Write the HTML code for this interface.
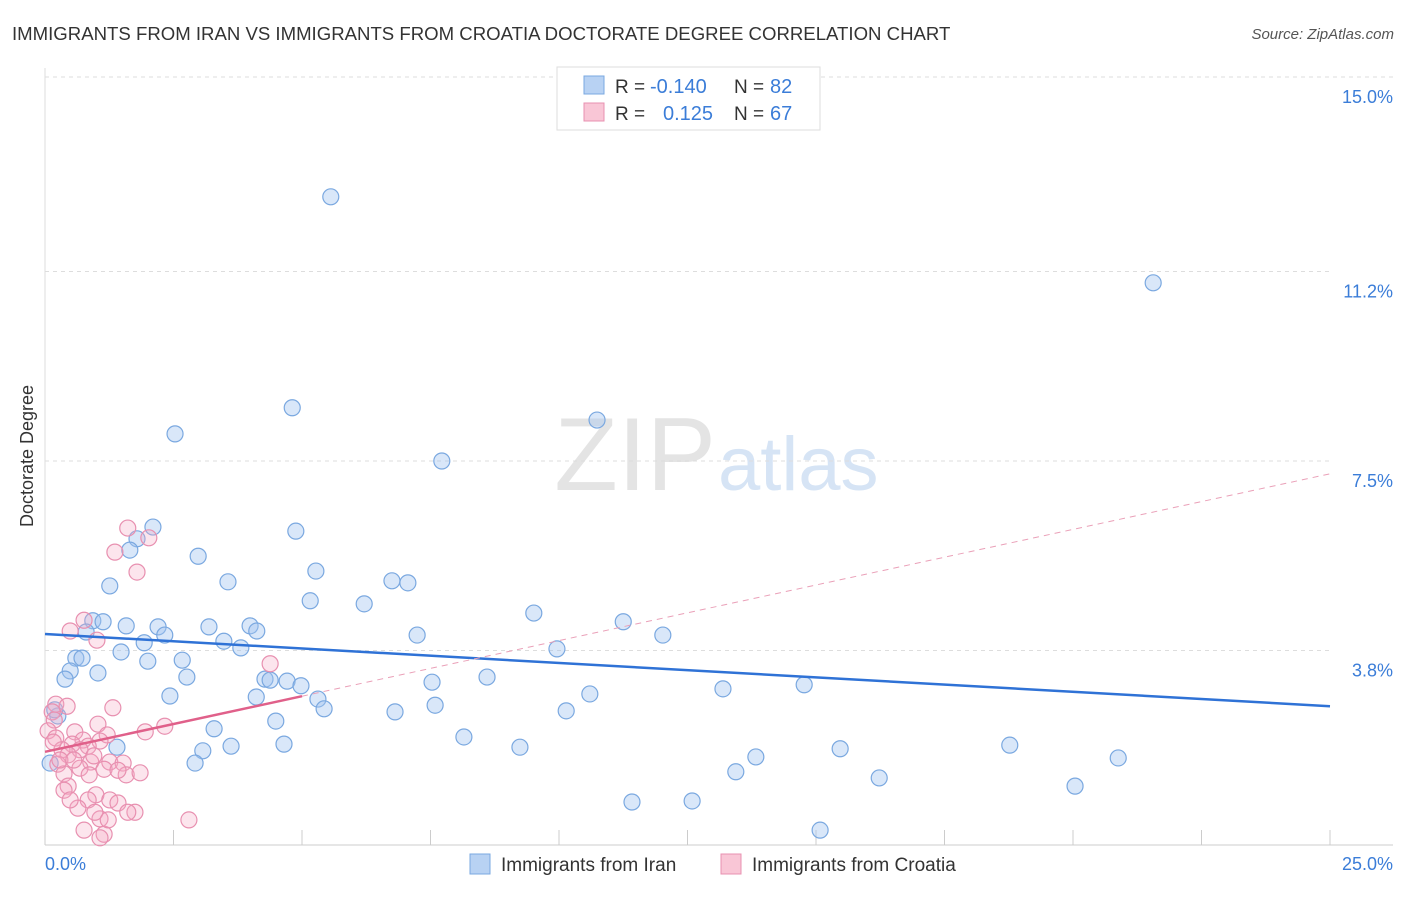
<!DOCTYPE html>
<html><head><meta charset="utf-8"><style>
body{margin:0;background:#fff;font-family:"Liberation Sans",sans-serif;}
svg text{font-family:"Liberation Sans",sans-serif;}
</style></head><body>
<svg width="1406" height="892" xmlns="http://www.w3.org/2000/svg">
<text x="12" y="40" font-size="18.6" fill="#333">IMMIGRANTS FROM IRAN VS IMMIGRANTS FROM CROATIA DOCTORATE DEGREE CORRELATION CHART</text>
<text x="1394" y="39" font-size="15" fill="#555" text-anchor="end" font-style="italic">Source: ZipAtlas.com</text>
<text x="716" y="490" font-size="104" fill="#e4e4e4" text-anchor="end" font-family="Liberation Serif">ZIP</text>
<text x="718" y="490" font-size="76" fill="#d6e4f5">atlas</text>
<g id="grid"></g><g id="axes"></g>
<text transform="translate(33,456) rotate(-90)" font-size="18" fill="#333" text-anchor="middle">Doctorate Degree</text>
<g id="marks"></g>
<g>
<rect x="557" y="67" width="263" height="63" fill="#fff" stroke="#ddd"/>
<rect x="584" y="76" width="20" height="18" fill="#b8d2f3" stroke="#7aa8e0"/>
<rect x="584" y="103" width="20" height="18" fill="#f9c6d6" stroke="#e890b0"/>
<text x="615" y="93" font-size="19" fill="#333">R =</text>
<text x="650" y="93" font-size="20" fill="#3b7dd8">-0.140</text>
<text x="734" y="93" font-size="19" fill="#333">N =</text>
<text x="770" y="93" font-size="20" fill="#3b7dd8">82</text>
<text x="615" y="120" font-size="19" fill="#333">R =</text>
<text x="663" y="120" font-size="20" fill="#3b7dd8">0.125</text>
<text x="734" y="120" font-size="19" fill="#333">N =</text>
<text x="770" y="120" font-size="20" fill="#3b7dd8">67</text>
</g>
<g>
<rect x="470" y="854" width="20" height="20" fill="#b8d2f3" stroke="#7aa8e0"/>
<text x="501" y="871" font-size="19" fill="#333">Immigrants from Iran</text>
<rect x="721" y="854" width="20" height="20" fill="#f9c6d6" stroke="#e890b0"/>
<text x="752" y="871" font-size="19" fill="#333">Immigrants from Croatia</text>
</g>
</svg>
<script>
const yTicks=[15.0,11.2,7.5,3.8];
const yTickLabels=["15.0%","11.2%","7.5%","3.8%"];
const xTickLabels=["0.0%","25.0%"];
const iranX=[5.56,21.56,4.81,10.74,2.53,7.72,2.10,4.88,1.79,1.65,2.98,5.27,1.26,3.56,6.75,7.06,5.16,6.21,9.51,11.25,0.93,1.13,1.58,2.20,3.19,3.99,4.12,0.80,2.33,7.24,12.02,1.93,3.48,3.81,9.96,1.48,2.00,0.60,0.72,2.67,0.49,1.03,0.39,2.76,4.28,4.38,4.71,4.98,7.53,8.60,14.77,13.19,2.43,4.11,5.31,10.60,7.59,5.43,10.14,6.81,0.25,4.49,3.29,8.15,1.40,3.62,4.65,9.24,15.47,18.77,3.07,2.92,13.83,20.88,13.44,16.23,20.04,11.42,12.59,15.08,0.10,0.19];
const iranY=[12.66,10.98,8.54,8.30,8.03,7.50,6.21,6.13,5.98,5.76,5.64,5.35,5.06,5.14,5.16,5.12,4.77,4.71,4.53,4.36,4.38,4.36,4.28,4.26,4.26,4.28,4.18,4.16,4.10,4.10,4.10,3.95,3.98,3.85,3.83,3.77,3.59,3.65,3.65,3.61,3.40,3.36,3.24,3.28,3.24,3.22,3.20,3.11,3.18,3.28,3.13,3.05,2.91,2.89,2.85,2.95,2.73,2.66,2.62,2.60,2.52,2.42,2.27,2.11,1.91,1.93,1.97,1.91,1.88,1.95,1.84,1.60,1.72,1.70,1.43,1.31,1.15,0.84,0.86,0.29,1.60,2.64];
const croX=[1.61,2.02,1.36,1.79,0.76,0.49,1.01,4.38,0.21,0.43,0.14,1.32,0.18,1.03,2.33,1.95,0.06,0.58,1.21,0.21,0.74,1.07,0.53,0.84,0.68,0.33,0.45,1.26,0.89,0.25,1.52,0.68,1.15,0.37,1.58,1.85,0.86,0.45,0.37,0.99,1.26,1.42,0.84,0.64,1.75,1.07,1.61,0.76,1.15,2.80,1.07,0.16,0.29,0.56,0.95,1.42,0.49,0.97,1.23];
const croY=[6.19,6.00,5.72,5.33,4.39,4.18,4.00,3.54,2.75,2.71,2.60,2.68,2.44,2.36,2.32,2.21,2.23,2.21,2.15,2.09,2.05,2.03,1.97,1.93,1.86,1.86,1.76,1.62,1.62,1.58,1.60,1.50,1.48,1.39,1.37,1.41,1.37,1.15,1.07,0.98,0.88,0.82,0.88,0.72,0.64,0.51,0.64,0.29,0.21,0.49,0.14,2.01,1.66,1.66,1.74,1.46,0.88,0.64,0.49];
const iranTrend=[4.12,2.71];
const croTrend=[1.82,7.25];
const NS="http://www.w3.org/2000/svg";
const X=v=>45+v*51.4, Y=v=>845-v*51.2;
function mk(p,tag,a){const e=document.createElementNS(NS,tag);for(const k in a)e.setAttribute(k,a[k]);document.getElementById(p).appendChild(e);return e;}
yTicks.forEach((t,i)=>{
 const g=mk('grid','line',{x1:45,x2:i==0?1393:1330,y1:Y(t),y2:Y(t),stroke:'#ddd','stroke-dasharray':'4,4'});
 
 
 const l=mk('grid','text',{x:1393,y:Y(t)+26,'font-size':18,fill:'#3b7dd8','text-anchor':'end'});
 l.textContent=yTickLabels[i];
 
 
});
const ax=mk('axes','line',{x1:45,x2:1393,y1:845,y2:845,stroke:'#ccc'});


const ay=mk('axes','line',{x1:45,x2:45,y1:68,y2:845,stroke:'#ddd'});


for(let i=0;i<=10;i++){const t=mk('axes','line',{x1:X(i*2.5),x2:X(i*2.5),y1:830,y2:845,stroke:'#ccc'});
 
 }
[[0,'start',45],[25,'end',1393]].forEach((d,i)=>{const t=mk('axes','text',{x:d[2],y:870,'font-size':18,fill:'#3b7dd8','text-anchor':d[1]});t.textContent=xTickLabels[i];
 
 });
iranX.forEach((x,i)=>{const c=mk('marks','circle',{cx:X(x),cy:Y(iranY[i]),r:8,fill:'rgba(160,196,240,0.4)',stroke:'#7aa8e0','stroke-width':1.2});
 
 });
croX.forEach((x,i)=>{const c=mk('marks','circle',{cx:X(x),cy:Y(croY[i]),r:8,fill:'rgba(245,170,195,0.3)',stroke:'#e890b0','stroke-width':1.2});
 
 });
const tb=mk('marks','line',{x1:X(0),y1:Y(iranTrend[0]),x2:X(25),y2:Y(iranTrend[1]),stroke:'#2f72d6','stroke-width':2.5});


const cAt=x=>croTrend[0]+(croTrend[1]-croTrend[0])*x/25;
const td=mk('marks','line',{x1:X(5),y1:Y(cAt(5)),x2:X(25),y2:Y(croTrend[1]),stroke:'#eaa0b8','stroke-width':1,'stroke-dasharray':'6,5'});


const ts=mk('marks','line',{x1:X(0),y1:Y(croTrend[0]),x2:X(5),y2:Y(cAt(5)),stroke:'#e0608a','stroke-width':2.5});


</script>
</body></html>
